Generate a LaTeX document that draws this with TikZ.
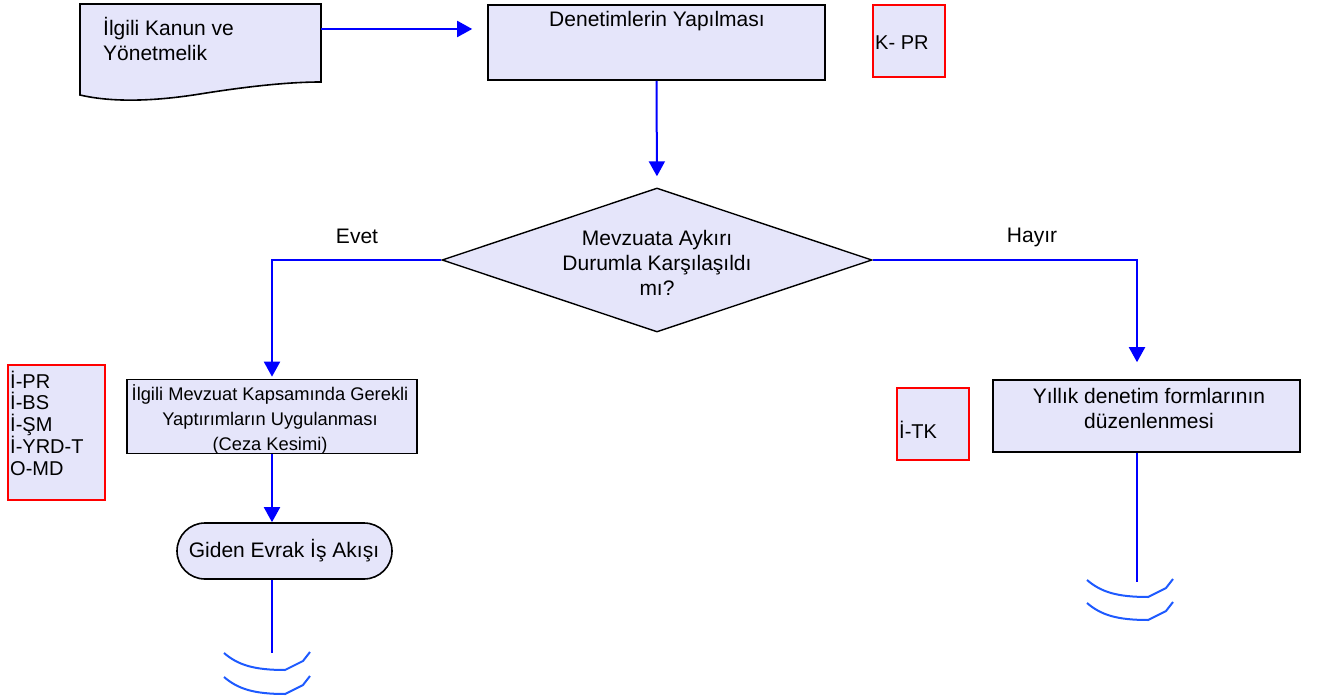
\documentclass[tikz,border=0pt]{standalone}
\usepackage{fontspec}
\setmainfont{Liberation Sans}
\usetikzlibrary{shapes.geometric,shapes.misc,arrows.meta,calc}
\definecolor{lav}{RGB}{229,229,250}
\definecolor{sq}{RGB}{30,90,255}
\begin{document}
\begin{tikzpicture}[x=1pt,y=-1pt,
  proc/.style={draw=black, line width=1.6pt, fill=lav, inner sep=0pt, rectangle},
  tagbox/.style={draw=red, line width=1.6pt, fill=lav, inner sep=0pt, rectangle},
  flow/.style={draw=blue, line width=2pt, -{Triangle[length=15pt,width=16pt]}},
  plain/.style={draw=blue, line width=2pt},
  squig/.style={draw=sq, line width=2pt},
  txt/.style={font=\fontsize{21}{25}\selectfont, align=center, inner sep=0pt},
  tagtxt/.style={font=\fontsize{20}{21.5}\selectfont, align=left, inner sep=0pt, anchor=west}]
\useasboundingbox (0,0) rectangle (1319,700);

% document shape
\draw[line width=1.6pt, fill=lav] (80,4) -- (321,4) -- (321,82)
  .. controls (290,82) and (250,86) .. (200,94)
  .. controls (150,102) and (110,102) .. (80,95) -- cycle;
\node[txt, align=left, anchor=north west] (doctxt) at (103,17) {İlgili Kanun ve\\Yönetmelik};
\coordinate (docout) at (321,29);

% process boxes
\node[proc, minimum width=337pt, minimum height=75pt] (b2) at (656.5,42.5) {};
\node[txt] (b2t) at (657,21) {Denetimlerin Yapılması};

\node[proc, diamond, draw=black, line width=1.4pt, minimum width=430pt, minimum height=144pt] (d) at (657,260) {};
\node[txt] (dt) at (657,263) {Mevzuata Aykırı\\Durumla Karşılaşıldı\\mı?};

\node[proc, minimum width=290pt, minimum height=74pt] (b3) at (272,416.5) {};
\node[txt, font=\fontsize{18.3}{25}\selectfont] (b3t) at (270,419) {İlgili Mevzuat Kapsamında Gerekli\\Yaptırımların Uygulanması\\(Ceza Kesimi)};

\node[proc, minimum width=307pt, minimum height=72pt] (b4) at (1146.5,416) {};
\node[txt] (b4t) at (1149,408) {Yıllık denetim formlarının\\düzenlenmesi};

\node[proc, rounded rectangle, minimum width=215pt, minimum height=56pt] (t) at (284.5,551) {};
\node[txt] (tt) at (284,551) {Giden Evrak İş Akışı};

% red tag boxes
\node[tagbox, minimum width=72pt, minimum height=72pt] (k) at (909,41) {};
\node[tagtxt] (kt) at (875,43) {K- PR};
\node[tagbox, minimum width=97pt, minimum height=135pt] (l) at (56.5,432.5) {};
\node[tagtxt] (lt) at (10,423) {İ-PR\\İ-BS\\İ-ŞM\\İ-YRD-T\\O-MD};
\node[tagbox, minimum width=72pt, minimum height=72pt] (m) at (933,424) {};
\node[tagtxt] (mt) at (899,430) {İ-TK};

% labels
\node[txt] (evet) at (357,236) {Evet};
\node[txt] (hayir) at (1032,237) {Hayır};

% connectors
\draw[flow, shorten >=15pt] (docout) -- (docout -| b2.west);
\draw[flow, shorten >=11pt] (b2.south) -- (d.north);
\coordinate (lcol) at (272,0);
\coordinate (rcol) at (1137,0);
\draw[flow, shorten >=2pt] (d.west) -| (lcol |- b3.north);
\draw[flow, shorten >=17pt] (d.east) -| (rcol |- b4.north);
\draw[flow] (lcol |- b3.south) -- (lcol |- t.north);

\coordinate (lend) at (272,653);
\coordinate (rend) at (1137,582);
\draw[plain] (lcol |- t.south) -- (lend);
\draw[plain] (rcol |- b4.south) -- (rend);

% squiggles
\foreach \dy in {0,24}{
  \draw[squig] (224,653+\dy) .. controls (238,665+\dy) and (254,670+\dy) .. (285,670+\dy) -- (303,661+\dy) -- (310,652+\dy);
}
\foreach \dy in {0,23}{
  \draw[squig] (1087,580+\dy) .. controls (1101,592+\dy) and (1117,597+\dy) .. (1148,597+\dy) -- (1166,588+\dy) -- (1173,579+\dy);
}
\end{tikzpicture}
\end{document}
